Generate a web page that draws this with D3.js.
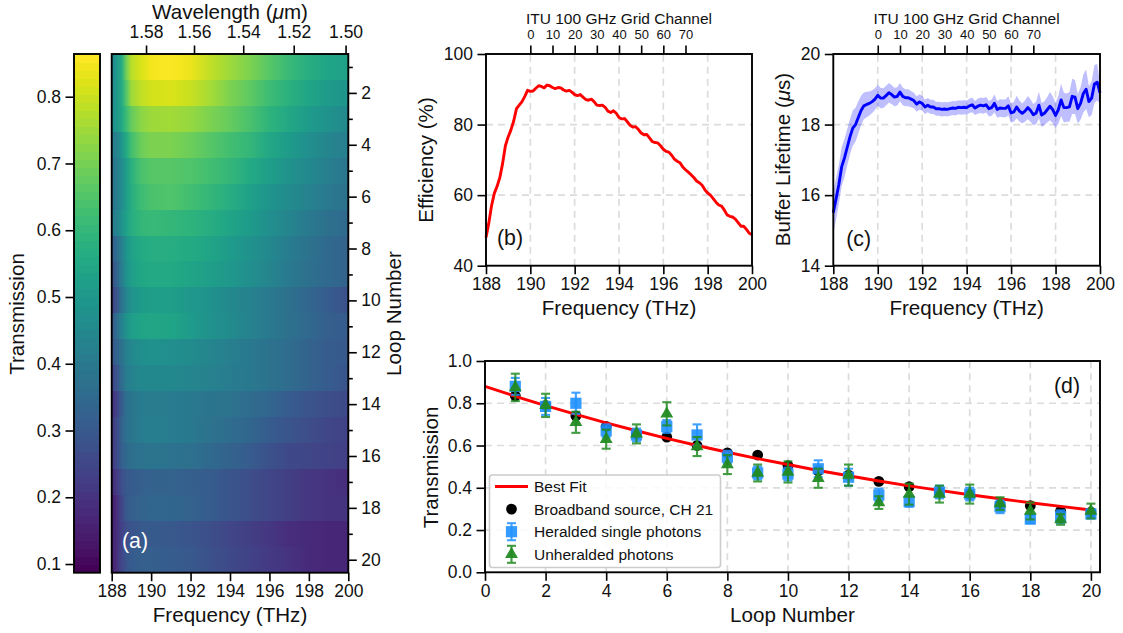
<!DOCTYPE html>
<html><head><meta charset="utf-8">
<script src="https://cdn.jsdelivr.net/npm/d3@7"></script>
<style>
html,body{margin:0;padding:0;background:#fff}
svg{display:block}
text{font-family:"Liberation Sans",Arial,sans-serif;fill:#111}
.domain{display:none}
.tick line{stroke:#000;stroke-width:1.6}
</style></head><body>
<svg id="c" width="1123" height="633"></svg>
<script>
// ---------- panel (a) ----------
const heatFreq=[188,188.25,188.5,188.75,189,189.5,190,191,192,193,194,195,196,197,198,199,200];
const heatRows=[
[.44,.50,.56,.70,.78,.82,.85,.86,.84,.79,.75,.71,.66,.61,.57,.54,.53],
[.45,.50,.56,.66,.75,.79,.81,.82,.80,.76,.71,.67,.62,.58,.54,.51,.49],
[.47,.50,.55,.62,.68,.73,.75,.755,.74,.71,.68,.64,.59,.55,.51,.48,.45],
[.40,.43,.49,.56,.63,.69,.71,.71,.69,.66,.63,.60,.55,.51,.47,.44,.42],
[.38,.41,.46,.52,.58,.64,.66,.66,.65,.63,.60,.56,.52,.48,.45,.42,.39],
[.38,.41,.46,.52,.57,.62,.64,.65,.63,.60,.57,.53,.49,.46,.43,.40,.37],
[.40,.43,.48,.53,.57,.60,.61,.60,.59,.57,.54,.51,.47,.44,.40,.37,.35],
[.31,.36,.42,.49,.53,.56,.57,.57,.56,.54,.51,.48,.45,.41,.38,.35,.33],
[.27,.33,.41,.48,.52,.55,.555,.555,.54,.52,.50,.47,.44,.40,.37,.35,.33],
[.23,.29,.38,.44,.48,.51,.52,.52,.50,.48,.45,.43,.40,.37,.34,.31,.28],
[.30,.36,.43,.48,.52,.54,.545,.54,.51,.48,.46,.43,.40,.37,.35,.32,.31],
[.29,.33,.38,.42,.45,.47,.48,.47,.46,.44,.42,.40,.38,.36,.33,.31,.30],
[.24,.29,.36,.41,.43,.45,.45,.45,.44,.43,.41,.40,.38,.36,.33,.31,.29],
[.19,.24,.31,.37,.39,.41,.41,.41,.40,.39,.38,.36,.34,.31,.29,.27,.26],
[.21,.26,.33,.37,.39,.41,.42,.41,.40,.38,.36,.34,.31,.29,.27,.25,.24],
[.22,.26,.32,.35,.37,.38,.385,.38,.37,.35,.33,.31,.28,.26,.25,.24,.23],
[.18,.22,.27,.30,.31,.32,.33,.33,.32,.31,.29,.27,.25,.23,.21,.20,.19],
[.14,.19,.25,.30,.32,.33,.34,.34,.33,.31,.29,.27,.25,.23,.21,.20,.20],
[.15,.19,.24,.27,.29,.30,.305,.30,.29,.27,.25,.23,.21,.19,.18,.17,.17],
[.15,.19,.25,.29,.31,.32,.32,.31,.30,.28,.26,.24,.22,.20,.18,.17,.17]];
const loopNumbers=[1,2,3,4,5,6,7,8,9,10,11,12,13,14,15,16,17,18,19,20];
const wavelengthTicks=[1.58,1.56,1.54,1.52,1.50];
const colorbarTicks=[.1,.2,.3,.4,.5,.6,.7,.8];
const freqTicks=[188,190,192,194,196,198,200];
const channelTicks=[0,10,20,30,40,50,60,70];
// ---------- panel (b) ----------
const lineFreq=[188,188.125,188.25,188.375,188.5,188.625,188.75,188.875,189,189.125,189.25,189.375,189.5,189.625,189.75,189.875,190,190.125,190.25,190.375,190.5,190.625,190.75,190.875,191,191.125,191.25,191.375,191.5,191.625,191.75,191.875,192,192.125,192.25,192.375,192.5,192.625,192.75,192.875,193,193.125,193.25,193.375,193.5,193.625,193.75,193.875,194,194.125,194.25,194.375,194.5,194.625,194.75,194.875,195,195.125,195.25,195.375,195.5,195.625,195.75,195.875,196,196.125,196.25,196.375,196.5,196.625,196.75,196.875,197,197.125,197.25,197.375,197.5,197.625,197.75,197.875,198,198.125,198.25,198.375,198.5,198.625,198.75,198.875,199,199.125,199.25,199.375,199.5,199.625,199.75,199.875,200];
const efficiency=[48,52,57,60.5,62.5,65,69,74,76.5,78.5,81,84.5,85.5,86.5,88,89.7,89.4,89.5,90.3,91,90.8,90.4,91.2,91,90.5,90.2,90.5,90.4,89.8,89.5,89.7,89.2,88.5,88.2,88.5,87.8,87.1,86.9,87.2,86.5,85.5,85.4,85.5,84.9,83.8,83.4,83.9,83.2,82,81.6,81.7,80.8,79.8,79.3,79.4,78.6,77.6,77.1,77.2,76.2,75.2,74.9,74.8,74,73,72.4,72.2,71.3,70.2,69.6,69.2,68,67.2,66.5,65.8,65,64,63.5,62.8,61.5,60.6,60,59,58,57.2,56.9,55.8,54.4,54,53.8,53.2,52.2,51.2,51.2,50.3,49.2,48.8];
// ---------- panel (c) ----------
const lifetime=[15.5,15.9,16.3,16.8,17.05,17.35,17.65,17.9,18,18.2,18.4,18.53,18.57,18.6,18.65,18.72,18.83,18.75,18.75,18.82,18.9,18.85,18.78,18.8,18.92,18.8,18.76,18.76,18.72,18.68,18.58,18.64,18.6,18.5,18.55,18.5,18.5,18.45,18.45,18.43,18.44,18.43,18.45,18.47,18.46,18.49,18.48,18.49,18.48,18.53,18.56,18.47,18.52,18.55,18.53,18.56,18.45,18.48,18.6,18.43,18.47,18.46,18.46,18.53,18.33,18.36,18.5,18.38,18.32,18.38,18.48,18.4,18.28,18.33,18.55,18.27,18.32,18.42,18.52,18.42,18.26,18.42,18.7,18.48,18.48,18.5,18.8,18.78,18.45,18.6,18.88,19,18.65,18.75,19.15,19.2,18.9];
const lifetimeErr=[.6,.58,.56,.55,.54,.52,.5,.5,.48,.46,.42,.38,.36,.34,.32,.31,.3,.29,.28,.28,.28,.27,.26,.26,.26,.25,.24,.24,.23,.22,.22,.22,.21,.2,.2,.2,.2,.2,.2,.2,.2,.2,.2,.2,.2,.2,.2,.2,.2,.2,.21,.2,.21,.22,.22,.22,.22,.23,.25,.24,.25,.25,.25,.27,.27,.28,.32,.3,.28,.3,.33,.32,.3,.32,.38,.34,.34,.36,.4,.38,.36,.4,.46,.42,.4,.42,.5,.48,.42,.46,.54,.56,.44,.48,.54,.52,.3];
// ---------- panel (d) ----------
const fitLoops=[0,1,2,3,4,5,6,7,8,9,10,11,12,13,14,15,16,17,18,19,20];
const fitValues=[.880,.833,.789,.747,.707,.670,.634,.600,.568,.538,.510,.482,.457,.432,.409,.388,.367,.348,.329,.312,.295];
const broadband=[.835,.79,.74,.69,.655,.64,.60,.565,.555,.505,.48,.46,.43,.405,.38,.37,.32,.315,.29,.285];
const heralded=[.88,.785,.80,.67,.65,.69,.65,.545,.47,.465,.49,.45,.366,.335,.38,.37,.31,.252,.263,.276];
const heraldedErr=[.04,.04,.05,.03,.03,.03,.05,.03,.03,.03,.04,.04,.03,.025,.03,.03,.03,.02,.03,.02];
const unheralded=[.875,.79,.71,.63,.655,.75,.595,.51,.47,.475,.445,.46,.33,.37,.37,.37,.325,.29,.25,.29];
const unheraldedErr=[.065,.055,.05,.045,.045,.055,.045,.045,.04,.05,.045,.05,.03,.05,.04,.045,.03,.04,.025,.035];
const legendLabels=["Best Fit","Broadband source, CH 21","Heralded single photons","Unheralded photons"];

const COL={blue:"#1e90ff",green:"#228b22",grid:"#dcdcdc"};
const FS={tick:17.5,label:20.6,top:13,itu:15.5,legend:15.5,panel:21.3};
const svg=d3.select("#c"), defs=svg.append("defs");

function styleAxis(g,size){g.selectAll(".domain").remove();g.selectAll("text").style("font-size",size+"px");}
function text(x,y,s,o={}){
  const t=svg.append("text").attr("x",x).attr("y",y).attr("text-anchor",o.anchor||"middle")
    .style("font-size",(o.size||FS.label)+"px");
  if(o.rot)t.attr("transform",`rotate(-90 ${x} ${y})`);
  if(o.fill)t.style("fill",o.fill);
  s.forEach(p=>{const sp=t.append("tspan").text(p.t||p);if(p.i)sp.style("font-style","italic");});
  return t;
}
function frame(x,y,w,h,sw=1.9){svg.append("rect").attr("x",x).attr("y",y).attr("width",w).attr("height",h).attr("fill","none").attr("stroke","#000").attr("stroke-width",sw);}
function grids(xs,ys,xScale,yScale){
  const g=svg.append("g").attr("stroke",COL.grid).attr("stroke-width",1.7).attr("stroke-dasharray","7,5").attr("fill","none");
  const [x0,x1]=xScale.range(),[y0,y1]=yScale.range();
  xs.forEach(v=>g.append("line").attr("x1",xScale(v)).attr("x2",xScale(v)).attr("y1",y0).attr("y2",y1));
  ys.forEach(v=>g.append("line").attr("y1",yScale(v)).attr("y2",yScale(v)).attr("x1",x0).attr("x2",x1));
}
const T=8.5, PAD=4.5;

// ---------- colour scale ----------
const tMin=.087,tMax=.864;
const color=v=>d3.interpolateViridis((v-tMin)/(tMax-tMin));

// colourbar
const cbTop=54,cbBot=572.7,cbX0=74,cbX1=100;
const cbY=d3.scaleLinear().domain([tMin,tMax]).range([cbBot,cbTop]);
const cbSteps=d3.range(64).map(i=>tMin+(tMax-tMin)*i/64);
svg.append("g").attr("shape-rendering","crispEdges").selectAll("rect").data(cbSteps).join("rect")
  .attr("x",cbX0).attr("width",cbX1-cbX0)
  .attr("y",d=>cbY(d+(tMax-tMin)/64)-.4).attr("height",(cbBot-cbTop)/64+.8)
  .attr("fill",d=>color(d+(tMax-tMin)/128));
frame(cbX0,cbTop,cbX1-cbX0,cbBot-cbTop);
svg.append("g").attr("transform",`translate(${cbX0},0)`)
  .call(d3.axisLeft(cbY).tickValues(colorbarTicks).tickSize(T).tickPadding(PAD).tickFormat(d3.format(".1f")))
  .call(styleAxis,FS.tick);
text(24,314,["Transmission"],{rot:true});

// heatmap
const ax={x0:111.7,x1:348.3,y0:54,y1:572.7};
const xA=d3.scaleLinear().domain([188,200]).range([ax.x0,ax.x1]);
const yLoop=d3.scaleLinear().domain([.5,20.5]).range([ax.y0,ax.y1]);
heatRows.forEach((row,i)=>{
  const lg=defs.append("linearGradient").attr("id","row"+i).attr("gradientUnits","userSpaceOnUse")
    .attr("x1",xA(188)).attr("x2",xA(200)).attr("y1",0).attr("y2",0);
  row.forEach((v,j)=>lg.append("stop").attr("offset",(heatFreq[j]-188)/12).attr("stop-color",color(v)));
});
svg.append("g").attr("shape-rendering","crispEdges").selectAll("rect").data(loopNumbers).join("rect")
  .attr("x",xA(188)).attr("width",xA(200)-xA(188))
  .attr("y",d=>Math.round(yLoop(d-.5))).attr("height",d=>Math.round(yLoop(d+.5))-Math.round(yLoop(d-.5)))
  .attr("fill",(d,i)=>`url(#row${i})`);
frame(ax.x0,ax.y0,ax.x1-ax.x0,ax.y1-ax.y0);
svg.append("g").attr("transform",`translate(0,${ax.y1})`)
  .call(d3.axisBottom(xA).tickValues(freqTicks).tickSize(T).tickPadding(3.5).tickFormat(d3.format("d")))
  .call(styleAxis,FS.tick);
svg.append("g").attr("transform",`translate(0,${ax.y0})`)
  .call(d3.axisTop(xA).tickValues(wavelengthTicks.map(w=>299.792458/w)).tickSize(T).tickPadding(7.5)
    .tickFormat((d,i)=>wavelengthTicks[i].toFixed(2)))
  .call(styleAxis,FS.tick);
svg.append("g").attr("transform",`translate(${ax.x1},0)`)
  .call(d3.axisRight(yLoop).tickValues(loopNumbers.filter(d=>d%2==0)).tickSize(T).tickPadding(4.5).tickFormat(d3.format("d")))
  .call(styleAxis,FS.tick);
svg.append("g").attr("transform",`translate(${ax.x1},0)`)
  .call(d3.axisRight(yLoop).tickValues(loopNumbers.filter(d=>d%2==1)).tickSize(4.5).tickFormat(""))
  .call(styleAxis,FS.tick);
text(230,19,["Wavelength (",{t:"μ",i:true},"m)"]);
text(230,621.5,["Frequency (THz)"]);
text(401,313.5,["Loop Number"],{rot:true});
text(135,548,["(a)"],{size:FS.panel,fill:"#fff"});

// line panels
function linePanel(x0,x1,dom,yTicks,gridY,ylabel,ylx,yly,tag,tagx,tagy){
  const x=d3.scaleLinear().domain([188,200]).range([x0,x1]);
  const y=d3.scaleLinear().domain(dom).range([265.7,54]);
  grids(d3.range(190,199,2),gridY,x,y);
  const chan=d3.scaleLinear().domain([-20,100]).range([x0,x1]);
  svg.append("g").attr("transform","translate(0,265.7)")
    .call(d3.axisBottom(x).tickValues(freqTicks).tickSize(T).tickPadding(3.5).tickFormat(d3.format("d")))
    .call(styleAxis,FS.tick);
  svg.append("g").attr("transform","translate(0,54)")
    .call(d3.axisTop(chan).tickValues(channelTicks).tickSize(T).tickPadding(6.5).tickFormat(d3.format("d")))
    .call(styleAxis,FS.top);
  svg.append("g").attr("transform",`translate(${x0},0)`)
    .call(d3.axisLeft(y).tickValues(yTicks).tickSize(T).tickPadding(PAD).tickFormat(d3.format("d")))
    .call(styleAxis,FS.tick);
  text((x0+x1)/2,315,["Frequency (THz)"]);
  text((x0+x1)/2,24,["ITU 100 GHz Grid Channel"],{size:FS.itu});
  text(ylx,yly,ylabel,{rot:true});
  text(tagx,tagy,[tag],{size:FS.panel});
  return {x,y,x0,x1};
}
const pb=linePanel(486,752,[40,100],[40,60,80,100],[60,80],["Efficiency (%)"],433,160,"(b)",510,245);
svg.append("path").datum(efficiency)
  .attr("fill","none").attr("stroke","#f00").attr("stroke-width",2.9).attr("stroke-linejoin","round")
  .attr("d",d3.line().x((d,i)=>pb.x(lineFreq[i])).y(d=>pb.y(d)));
frame(486,54,266,211.7);

const pc=linePanel(833.3,1100,[14,20],[14,16,18,20],[16,18],["Buffer Lifetime (",{t:"μ",i:true},"s)"],790,159.5,"(c)",858.7,246);
svg.append("path").datum(lifetime).attr("fill","#00f").attr("fill-opacity",.25)
  .attr("d",d3.area().x((d,i)=>pc.x(lineFreq[i])).y0((d,i)=>pc.y(d-lifetimeErr[i])).y1((d,i)=>pc.y(d+lifetimeErr[i])));
svg.append("path").datum(lifetime)
  .attr("fill","none").attr("stroke","#00f").attr("stroke-width",2.9).attr("stroke-linejoin","round")
  .attr("d",d3.line().x((d,i)=>pc.x(lineFreq[i])).y(d=>pc.y(d)));
frame(833.3,54,266.7,211.7);

// panel (d)
const xD=d3.scaleLinear().domain([0,20.3]).range([485,1100]);
const yD=d3.scaleLinear().domain([0,1]).range([572.3,361]);
grids(d3.range(2,21,2),[.2,.4,.6,.8],xD,yD);
svg.append("g").attr("transform","translate(0,572.3)")
  .call(d3.axisBottom(xD).tickValues(d3.range(0,21,2)).tickSize(T).tickPadding(3.5).tickFormat(d3.format("d")))
  .call(styleAxis,FS.tick);
svg.append("g").attr("transform","translate(485,0)")
  .call(d3.axisLeft(yD).tickValues(d3.range(0,1.01,.2)).tickSize(T).tickPadding(PAD).tickFormat(d3.format(".1f")))
  .call(styleAxis,FS.tick);
text(792.5,621.5,["Loop Number"]);
text(438,467.5,["Transmission"],{rot:true});
text(1067,393,["(d)"],{size:FS.panel});
const tri=d3.symbol().type(d3.symbolTriangle).size(72)();
function errMark(g,x,y,yLo,yHi,col,kind){
  const e=g.append("g").attr("stroke",col).attr("stroke-width",2.1).attr("fill","none").attr("opacity",.85);
  e.append("line").attr("x1",x).attr("x2",x).attr("y1",yLo).attr("y2",yHi);
  [yLo,yHi].forEach(v=>e.append("line").attr("x1",x-4.5).attr("x2",x+4.5).attr("y1",v).attr("y2",v));
  if(kind=="sq") g.append("rect").attr("x",x-5.6).attr("y",y-5.6).attr("width",11.2).attr("height",11.2).attr("fill",col).attr("opacity",.9);
  else g.append("path").attr("d",tri).attr("transform",`translate(${x},${y})`).attr("fill",col).attr("opacity",.95);
}
svg.append("g").selectAll("circle").data(broadband).join("circle")
  .attr("cx",(d,i)=>xD(loopNumbers[i])).attr("cy",d=>yD(d)).attr("r",5.4).attr("fill","#000");
svg.append("path").datum(fitValues).attr("fill","none").attr("stroke","#f00").attr("stroke-width",2.9)
  .attr("d",d3.line().x((d,i)=>xD(fitLoops[i])).y(d=>yD(d)));
const gm=svg.append("g");
heralded.forEach((v,i)=>errMark(gm,xD(loopNumbers[i]),yD(v),yD(v-heraldedErr[i]),yD(v+heraldedErr[i]),COL.blue,"sq"));
unheralded.forEach((v,i)=>errMark(gm,xD(loopNumbers[i]),yD(v),yD(v-unheraldedErr[i]),yD(v+unheraldedErr[i]),COL.green,"tri"));
frame(485,361,615,211.3);

// legend
svg.append("rect").attr("x",489.5).attr("y",475).attr("width",231).attr("height",92.5).attr("rx",3)
  .attr("fill","#fff").attr("fill-opacity",.85).attr("stroke","#ccc").attr("stroke-width",1.6);
const lgY=i=>486.5+i*22.6;
legendLabels.forEach((s,i)=>text(534,lgY(i)+5.4,[s],{anchor:"start",size:FS.legend}));
svg.append("line").attr("x1",495).attr("x2",528).attr("y1",lgY(0)).attr("y2",lgY(0)).attr("stroke","#f00").attr("stroke-width",2.9);
svg.append("circle").attr("cx",511.5).attr("cy",lgY(1)).attr("r",5.4).attr("fill","#000");
errMark(svg,511.5,lgY(2),lgY(2)+8.5,lgY(2)-8.5,COL.blue,"sq");
errMark(svg,511.5,lgY(3),lgY(3)+8.5,lgY(3)-8.5,COL.green,"tri");
</script>
</body></html>
